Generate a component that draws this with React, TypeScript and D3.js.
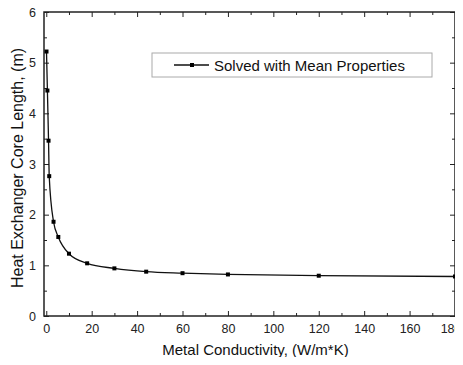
import React, { useEffect, useRef } from 'react';
import * as d3 from 'd3';

// conductivity (W/m*K) vs core length (m)
const conductivity = [0.1, 0.5, 1, 1.3, 3.2, 5.3, 10, 18, 30, 44, 60, 80, 120, 180];
const coreLength = [5.22, 4.45, 3.46, 2.76, 1.86, 1.56, 1.23, 1.04, 0.94, 0.875, 0.845, 0.82, 0.795, 0.78];
const xTicks = [0, 20, 40, 60, 80, 100, 120, 140, 160, 180];
const yTicks = [0, 1, 2, 3, 4, 5, 6];
const seriesName = 'Solved with Mean Properties';

const W = 463;
const H = 365;
const font = 'Arial, "Liberation Sans", Helvetica, sans-serif';

function Chart() {
  const ref = useRef<SVGSVGElement | null>(null);

  useEffect(() => {
    const svg = d3.select(ref.current);
    svg.selectAll('*').remove();

    const m = { t: 12, r: 8, b: 49, l: 44 };
    const pw = W - m.l - m.r;
    const ph = H - m.t - m.b;

    const x = d3.scaleLinear().domain([-1, 180]).range([0, pw]);
    const y = d3.scaleLinear().domain([0, 6]).range([ph, 0]);

    const g = svg.append('g').attr('transform', `translate(${m.l},${m.t})`);

    const xMinor = d3.range(10, 180, 20);
    const yMinor = d3.range(0.5, 6, 1);

    // major ticks, pointing in, on all four sides
    const major = (sel: any, ticks: number[], axis: any, fmt: boolean) => {
      sel.call(axis.tickValues(ticks).tickSize(-5).tickSizeOuter(0).tickPadding(8).tickFormat(fmt ? d3.format('d') : () => ''));
    };
    const minor = (sel: any, ticks: number[], axis: any) => {
      sel.call(axis.tickValues(ticks).tickSize(-3).tickSizeOuter(0).tickFormat(() => ''));
    };

    const xAxisG = g.append('g').attr('transform', `translate(0,${ph})`);
    major(xAxisG, xTicks, d3.axisBottom(x), true);
    major(g.append('g'), xTicks, d3.axisTop(x), false);
    major(g.append('g'), yTicks, d3.axisLeft(y), true);
    major(g.append('g').attr('transform', `translate(${pw},0)`), yTicks, d3.axisRight(y), false);

    minor(g.append('g').attr('transform', `translate(0,${ph})`), xMinor, d3.axisBottom(x));
    minor(g.append('g'), xMinor, d3.axisTop(x));
    minor(g.append('g'), yMinor, d3.axisLeft(y));
    minor(g.append('g').attr('transform', `translate(${pw},0)`), yMinor, d3.axisRight(y));

    g.selectAll('.domain').remove();
    g.selectAll('.tick line').attr('stroke', '#222').attr('stroke-width', 1);
    g.selectAll('.tick text').attr('font-family', font).attr('font-size', 12.5).attr('fill', '#222');
    // last label sits on the page edge, keep it inside
    xAxisG.selectAll('.tick text').filter((d: any) => d === 180).attr('text-anchor', 'end').attr('dx', 6);

    g.append('rect')
      .attr('width', pw).attr('height', ph)
      .attr('fill', 'none').attr('stroke', '#222').attr('stroke-width', 1.5);

    const pts = conductivity.map((c, i) => [c, coreLength[i]] as [number, number]);
    const line = d3.line<[number, number]>()
      .x(d => x(d[0])).y(d => y(d[1]))
      .curve(d3.curveMonotoneX);

    g.append('path').datum(pts)
      .attr('d', line).attr('fill', 'none')
      .attr('stroke', '#111').attr('stroke-width', 1.3);

    g.selectAll('.pt').data(pts).join('rect')
      .attr('class', 'pt')
      .attr('x', d => x(d[0]) - 2).attr('y', d => y(d[1]) - 2)
      .attr('width', 4).attr('height', 4).attr('fill', '#000');

    // legend
    const lg = svg.append('g').attr('transform', 'translate(152,53)');
    lg.append('rect').attr('width', 280).attr('height', 24)
      .attr('fill', '#fff').attr('stroke', '#aaa').attr('stroke-width', 1);
    lg.append('line').attr('x1', 22).attr('x2', 57).attr('y1', 12).attr('y2', 12)
      .attr('stroke', '#111').attr('stroke-width', 1.3);
    lg.append('rect').attr('x', 38).attr('y', 10).attr('width', 4).attr('height', 4).attr('fill', '#000');
    lg.append('text').attr('x', 62).attr('y', 17.5)
      .attr('font-family', font).attr('font-size', 15).attr('fill', '#111')
      .text(seriesName);

    svg.append('text')
      .attr('x', m.l + pw / 2 + 6).attr('y', 355)
      .attr('text-anchor', 'middle')
      .attr('font-family', font).attr('font-size', 15).attr('fill', '#111')
      .text('Metal Conductivity, (W/m*K)');

    svg.append('text')
      .attr('transform', `translate(23,${m.t + ph / 2 + 4}) rotate(-90)`)
      .attr('text-anchor', 'middle')
      .attr('font-family', font).attr('font-size', 16).attr('fill', '#111')
      .text('Heat Exchanger Core Length, (m)');
  }, []);

  return <svg ref={ref} width={W} height={H} style={{ display: 'block', background: '#fff' }} />;
}

export default function App() {
  return (
    <div style={{ margin: -8 }}>
      <Chart />
    </div>
  );
}
